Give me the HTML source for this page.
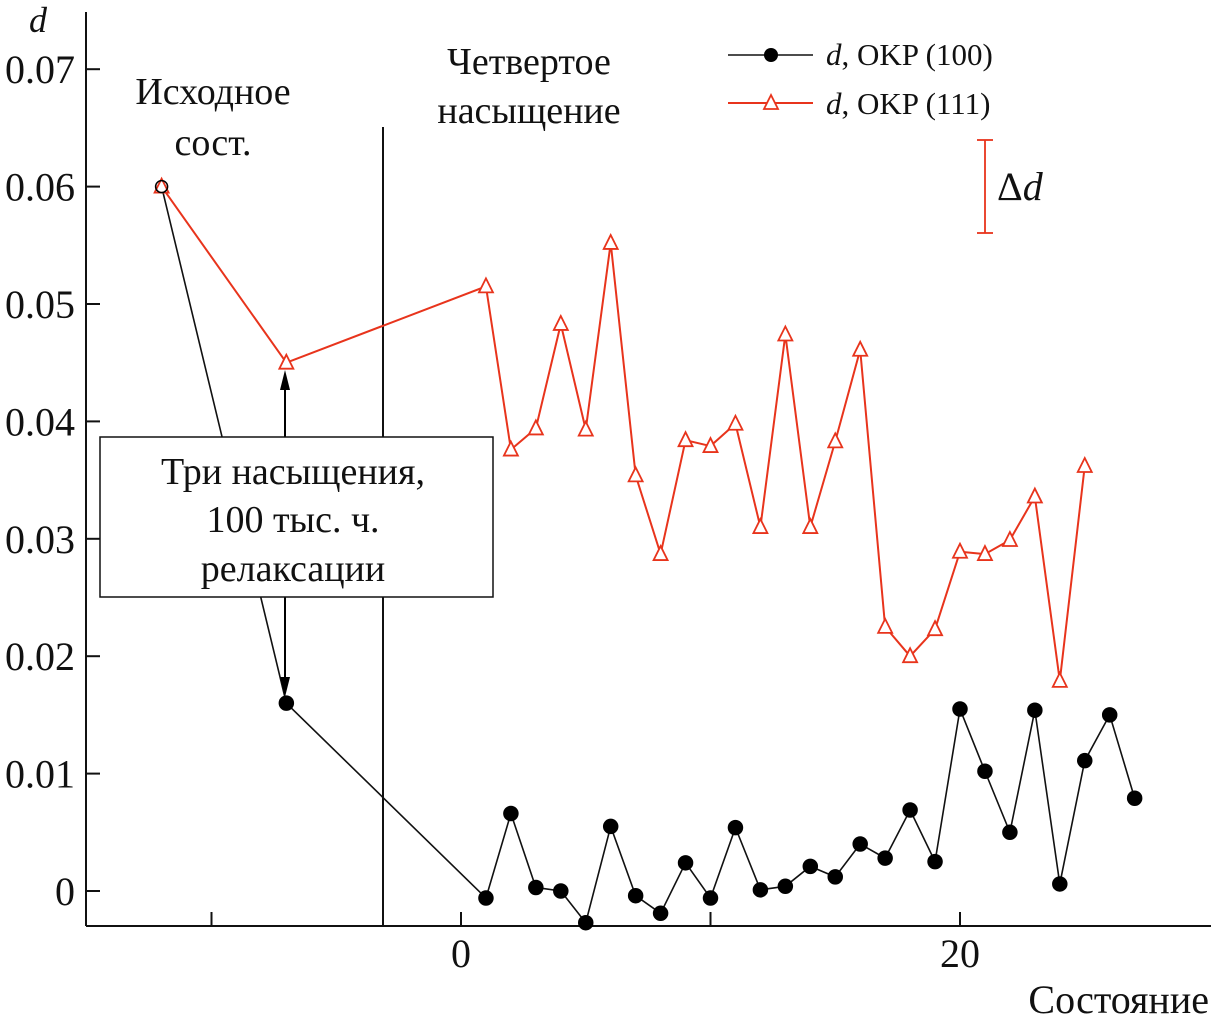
<!DOCTYPE html>
<html><head><meta charset="utf-8"><style>
html,body{margin:0;padding:0;background:#fff;}
svg{display:block;font-family:"Liberation Serif","DejaVu Serif",serif;}
</style></head><body>
<svg id="chart" width="1211" height="1028" viewBox="0 0 1211 1028" xmlns="http://www.w3.org/2000/svg"></svg>
<script>
const blackX = [-12,-7,1,2,3,4,5,6,7,8,9,10,11,12,13,14,15,16,17,18,19,20,21,22,23,24,25,26,27];
const blackY = [0.060,0.016,-0.0006,0.0066,0.0003,0.0000,-0.0027,0.0055,-0.0004,-0.0019,0.0024,-0.0006,0.0054,0.0001,0.0004,0.0021,0.0012,0.0040,0.0028,0.0069,0.0025,0.0155,0.0102,0.0050,0.0154,0.0006,0.0111,0.0150,0.0079];
const redX = [-12,-7,1,2,3,4,5,6,7,8,9,10,11,12,13,14,15,16,17,18,19,20,21,22,23,24,25];
const redY = [0.060,0.045,0.0515,0.0376,0.0394,0.0483,0.0393,0.0552,0.0354,0.0287,0.0384,0.0379,0.0398,0.0310,0.0474,0.0310,0.0383,0.0461,0.0225,0.0200,0.0223,0.0289,0.0287,0.0299,0.0336,0.0179,0.0362];
const yTicks = [0,0.01,0.02,0.03,0.04,0.05,0.06,0.07];
const yTickLabels = ["0","0.01","0.02","0.03","0.04","0.05","0.06","0.07"];
const xTicks = [-10,0,10,20];
const xTickLabels = ["","0","","20"];

const NS="http://www.w3.org/2000/svg";
const svg=document.getElementById('chart');
function X(v){return 461+v*24.95;}
function Y(v){return 891-v*11740;}
function el(tag,attrs,parent){const e=document.createElementNS(NS,tag);for(const k in attrs)e.setAttribute(k,attrs[k]);(parent||svg).appendChild(e);return e;}
function txt(x,y,s,size,anchor,extra){const t=el('text',Object.assign({x:x,y:y,'font-size':size,'text-anchor':anchor||'start',fill:'#111'},extra||{}));t.textContent=s;return t;}

const ya=el('line',{x1:86,y1:12,x2:86,y2:926,stroke:'#111','stroke-width':2});


const xa=el('line',{x1:86,y1:926,x2:1211,y2:926,stroke:'#111','stroke-width':2});


yTicks.forEach((v,i)=>{
  const t=el('line',{x1:86,y1:Y(v),x2:100,y2:Y(v),stroke:'#111','stroke-width':2});
  
  
  const l=txt(75,Y(v)+14,yTickLabels[i],40,'end');
  
  
});
xTicks.forEach((v,i)=>{
  const t=el('line',{x1:X(v),y1:912,x2:X(v),y2:926,stroke:'#111','stroke-width':2});
  
  
  if(xTickLabels[i]){const l=txt(X(v),967,xTickLabels[i],40,'middle');
  
  }
});
const yt=txt(38,32,'d',36,'middle',{'font-style':'italic'});


const xt=txt(1209,1013,'Состояние',40,'end');



const sep=el('line',{x1:383,y1:127,x2:383,y2:926,stroke:'#111','stroke-width':2});


txt(213,104,'Исходное',38,'middle');
txt(213,155,'сост.',38,'middle');
txt(529,74,'Четвертое',38,'middle');
txt(529,123,'насыщение',38,'middle');

const bl=el('polyline',{points:blackX.map((x,i)=>X(x)+','+Y(blackY[i])).join(' '),fill:'none',stroke:'#111','stroke-width':1.6});


const rl=el('polyline',{points:redX.map((x,i)=>X(x)+','+Y(redY[i])).join(' '),fill:'none',stroke:'#e8341c','stroke-width':2});


redX.forEach((x,i)=>{
  const cx=X(x),cy=Y(redY[i]);
  const p=el('polygon',{points:`${cx},${cy-8} ${cx-7},${cy+6} ${cx+7},${cy+6}`,fill:'#fff',stroke:'#e8341c','stroke-width':1.8});
  
  
});
blackX.forEach((x,i)=>{
  const c=el('circle',{cx:X(x),cy:Y(blackY[i]),r:i===0?6:7,fill:i===0?'none':'#000',stroke:'#000','stroke-width':1.5});
  
  
});

const ar=el('line',{x1:285,y1:437,x2:285,y2:380,stroke:'#000','stroke-width':2});


el('polygon',{points:'285,370 280,390 290,390',fill:'#000'});
const ar2=el('line',{x1:285,y1:597,x2:285,y2:685,stroke:'#000','stroke-width':2});


el('polygon',{points:'285,697 280,677 290,677',fill:'#000'});
const box=el('rect',{x:100,y:437,width:393,height:160,fill:'#fff',stroke:'#111','stroke-width':1.5});


txt(293,484,'Три насыщения,',38,'middle');
txt(293,532,'100 тыс. ч.',38,'middle');
txt(293,581,'релаксации',38,'middle');

const lg=el('g',{});


el('line',{x1:728,y1:55,x2:813,y2:55,stroke:'#111','stroke-width':1.6},lg);
el('circle',{cx:771,cy:55,r:7,fill:'#000'},lg);
const t1=el('text',{x:826,y:65,'font-size':31,fill:'#111'},lg);
t1.innerHTML='<tspan font-style="italic">d</tspan>, OKP (100)';
el('line',{x1:728,y1:103,x2:813,y2:103,stroke:'#e8341c','stroke-width':2},lg);
el('polygon',{points:'771,95 764,109 778,109',fill:'#fff',stroke:'#e8341c','stroke-width':1.8},lg);
const t2=el('text',{x:826,y:114,'font-size':31,fill:'#111'},lg);
t2.innerHTML='<tspan font-style="italic">d</tspan>, OKP (111)';
const dd=el('g',{stroke:'#e8341c','stroke-width':1.8});


el('line',{x1:985,y1:140,x2:985,y2:233},dd);
el('line',{x1:977,y1:140,x2:993,y2:140},dd);
el('line',{x1:977,y1:233,x2:993,y2:233},dd);
const dt=el('text',{x:997,y:200,'font-size':40,fill:'#111'});
dt.innerHTML='Δ<tspan font-style="italic">d</tspan>';


</script>
</body></html>
